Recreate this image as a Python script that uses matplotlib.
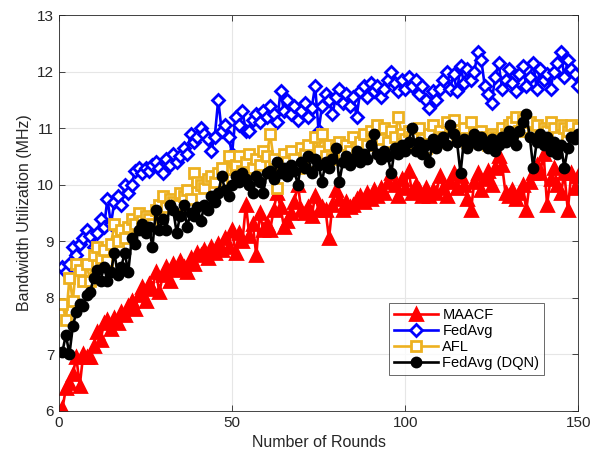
#!/usr/bin/env python

import matplotlib
matplotlib.use('Agg')
import matplotlib.pyplot as plt
import numpy as np

plt.rcParams['font.family'] = ['Liberation Sans', 'DejaVu Sans']

rounds = np.arange(1, 151)

maacf = [
    6.05, 6.40, 6.50, 6.65, 6.95, 6.45, 7.00, 6.95, 6.95, 7.15,
    7.40, 7.25, 7.55, 7.60, 7.45, 7.65, 7.55, 7.75, 7.70, 7.85,
    7.95, 7.80, 8.05, 8.20, 7.95, 8.25, 8.15, 8.45, 8.10, 8.40,
    8.55, 8.30, 8.60, 8.50, 8.65, 8.55, 8.45, 8.70, 8.60, 8.80,
    8.75, 8.85, 8.70, 8.90, 8.80, 8.95, 8.85, 9.05, 8.90, 9.20,
    8.80, 9.15, 9.00, 9.65, 9.10, 9.30, 8.75, 9.50, 9.20, 9.30,
    9.20, 9.55, 9.85, 9.60, 9.25, 9.35, 9.50, 9.70, 10.00, 9.55,
    9.50, 9.60, 9.45, 9.80, 9.55, 9.60, 9.55, 9.05, 9.65, 9.90,
    9.75, 9.55, 9.70, 9.60, 9.65, 9.75, 9.80, 9.70, 9.85, 9.75,
    9.90, 9.80, 9.95, 9.85, 10.05, 10.20, 10.00, 9.80, 10.10, 9.95,
    10.25, 9.85, 10.00, 9.90, 9.80, 9.95, 9.80, 9.90, 9.85, 10.15,
    9.95, 9.80, 10.05, 10.20, 9.95, 10.15, 10.00, 9.75, 9.55, 10.05,
    10.20, 9.90, 10.10, 10.25, 10.00, 10.30, 10.50, 10.35, 9.85, 9.80,
    9.90, 9.75, 9.85, 10.00, 9.55, 10.05, 10.20, 10.35, 10.20, 10.55,
    9.65, 10.10, 10.30, 10.00, 9.85, 10.20, 9.55, 10.20, 9.95, 10.15,
]

fedavg = [
    8.55, 8.45, 8.60, 8.90, 8.75, 8.95, 9.05, 9.20, 9.10, 8.90,
    9.15, 9.40, 9.25, 9.75, 9.30, 9.70, 9.80, 9.65, 10.00, 9.85,
    10.00, 10.25, 10.30, 10.20, 10.30, 10.25, 10.35, 10.40, 10.30, 10.20,
    10.45, 10.35, 10.55, 10.40, 10.50, 10.65, 10.55, 10.90, 10.75, 10.85,
    11.00, 10.90, 10.80, 10.60, 10.85, 11.50, 10.95, 11.05, 10.85, 10.55,
    11.20, 11.05, 11.30, 10.95, 10.95, 11.15, 11.25, 11.10, 11.30, 11.20,
    11.40, 11.25, 11.10, 11.65, 11.30, 11.50, 11.25, 11.40, 11.15, 11.30,
    11.45, 11.20, 11.35, 11.75, 10.95, 11.40, 11.60, 11.50, 11.25, 11.55,
    11.70, 11.45, 11.60, 11.40, 11.55, 11.20, 11.65, 11.75, 11.55, 11.80,
    11.65, 11.75, 11.55, 11.70, 11.85, 12.00, 11.80, 11.65, 11.85, 11.70,
    11.90, 11.75, 11.85, 11.60, 11.75, 11.50, 11.35, 11.65, 11.50, 11.70,
    11.85, 12.00, 11.70, 11.95, 11.65, 12.10, 11.80, 12.05, 11.85, 12.00,
    12.35, 12.20, 11.75, 11.60, 11.45, 11.90, 12.15, 11.70, 11.85, 12.05,
    11.80, 11.65, 11.95, 12.10, 11.75, 11.90, 12.15, 11.70, 12.05, 11.85,
    11.95, 11.70, 12.00, 12.15, 12.35, 11.90, 12.20, 12.05, 11.95, 11.75,
]

afl = [
    7.90, 7.60, 8.35, 7.95, 8.60, 8.50, 8.30, 8.60, 8.30, 8.75,
    8.90, 8.70, 8.85, 8.65, 8.95, 9.30, 9.00, 9.20, 9.05, 9.25,
    9.40, 9.30, 9.50, 9.35, 9.45, 9.40, 9.30, 9.55, 9.65, 9.80,
    9.60, 9.75, 9.70, 9.65, 9.85, 9.80, 9.90, 9.75, 10.20, 10.05,
    10.00, 9.95, 10.10, 10.15, 10.05, 10.20, 10.30, 10.05, 10.50, 10.10,
    10.35, 10.50, 10.25, 10.40, 10.55, 10.30, 10.45, 10.35, 10.60, 10.50,
    10.90, 10.45, 9.95, 10.35, 10.55, 10.40, 10.60, 10.45, 10.30, 10.65,
    10.55, 10.70, 10.40, 10.85, 10.60, 10.90, 10.50, 10.70, 10.45, 10.65,
    10.75, 10.55, 10.70, 10.60, 10.85, 10.65, 10.75, 10.90, 10.70, 10.95,
    10.85, 11.05, 10.80, 11.00, 10.75, 10.95, 10.85, 11.20, 10.90, 10.80,
    10.95, 10.85, 10.70, 11.00, 10.80, 10.65, 10.90, 11.05, 10.75, 10.95,
    10.85, 11.10, 10.80, 11.15, 10.90, 10.85, 11.00, 10.75, 11.10, 10.85,
    10.80, 10.95, 10.85, 10.70, 10.90, 10.85, 10.80, 11.00, 10.90, 11.05,
    11.10, 11.20, 10.95, 11.15, 11.00, 11.10, 10.90, 11.05, 10.85, 11.00,
    10.95, 11.10, 11.00, 10.85, 11.05, 11.00, 10.95, 11.05, 10.90, 11.00,
]

fedavg_dqn = [
    7.05, 7.35, 7.00, 7.50, 7.75, 7.90, 7.85, 8.05, 8.10, 8.35,
    8.50, 8.30, 8.55, 8.30, 8.45, 8.80, 8.40, 8.55, 8.80, 8.45,
    9.05, 8.95, 9.20, 9.30, 9.15, 9.25, 8.90, 9.55, 9.20, 9.40,
    9.20, 9.65, 9.55, 9.15, 9.45, 9.65, 9.25, 9.50, 9.45, 9.60,
    9.35, 9.65, 9.55, 9.80, 9.70, 9.85, 10.15, 9.90, 9.80, 10.00,
    10.15, 10.05, 10.20, 10.10, 10.00, 9.85, 10.15, 10.05, 9.85, 10.20,
    10.25, 10.10, 10.40, 10.20, 10.30, 10.15, 10.35, 10.25, 10.00, 10.40,
    10.30, 10.50, 10.20, 10.45, 10.35, 10.05, 10.40, 10.30, 10.45, 10.65,
    10.05, 10.40, 10.50, 10.35, 10.45, 10.60, 10.40, 10.55, 10.45, 10.70,
    10.90, 10.55, 10.45, 10.60, 10.50, 10.20, 10.65, 10.55, 10.70, 10.60,
    10.75, 11.00, 10.60, 10.75, 10.55, 10.70, 10.40, 10.80, 10.65, 10.75,
    10.85, 10.70, 11.05, 10.90, 10.75, 10.20, 10.80, 10.65, 10.75, 10.90,
    10.70, 10.85, 10.75, 10.65, 10.80, 10.60, 10.70, 10.85, 10.75, 10.95,
    10.80, 10.70, 10.95, 11.10, 11.25, 10.85, 10.30, 10.75, 10.90, 10.70,
    10.85, 10.60, 10.75, 10.55, 10.70, 10.30, 10.65, 10.85, 10.80, 10.90,
]

series_names = ['MAACF', 'FedAvg', 'AFL', 'FedAvg (DQN)']
series_values = [maacf, fedavg, afl, fedavg_dqn]

x_ticks = [0, 50, 100, 150]
y_ticks = [6, 7, 8, 9, 10, 11, 12, 13]

# colour, marker, filled?, size
styles = [
    ('#ff0000', '^', True, 8.0),
    ('#0000ff', 'D', False, 6.5),
    ('#edb120', 's', False, 6.5),
    ('#000000', 'o', True, 6.5),
]


def create_plot():
    fig = plt.figure(figsize=(5.9, 4.59), dpi=100)
    ax = fig.add_axes([0.100, 0.1046, 0.880, 0.8627])

    for name, vals, (col, mk, filled, ms) in zip(series_names, series_values, styles):
        ax.plot(rounds, vals, color=col, lw=1.9, marker=mk, ms=ms,
                mfc=col if filled else 'white', mec=col, mew=2.0,
                label=name)

    ax.set_xlim(0, 150)
    ax.set_ylim(6, 13)
    ax.set_xticks(x_ticks)
    ax.set_yticks(y_ticks)
    ax.grid(True, color='#e6e6e6', lw=0.8)
    ax.set_axisbelow(True)
    for sp in ax.spines.values():
        sp.set_color('#262626')
        sp.set_linewidth(0.6)
    ax.tick_params(direction='in', length=4, width=0.6, colors='#262626',
                   labelsize=11, top=True, right=True)
    ax.set_xlabel('Number of Rounds', fontsize=11.5, color='#262626')
    ax.set_ylabel('Bandwidth Utilization (MHz)', fontsize=11.5, color='#262626')

    leg = ax.legend(loc='lower right', bbox_to_anchor=(0.935, 0.09),
                    fontsize=10.5, frameon=True, fancybox=False,
                    borderpad=0.35, labelspacing=0.15, handlelength=3.0,
                    handletextpad=0.3, borderaxespad=0)
    leg.get_frame().set_edgecolor('#262626')
    leg.get_frame().set_linewidth(0.6)

    fig.savefig('out.png', dpi=100)


if __name__ == "__main__":
    create_plot()
